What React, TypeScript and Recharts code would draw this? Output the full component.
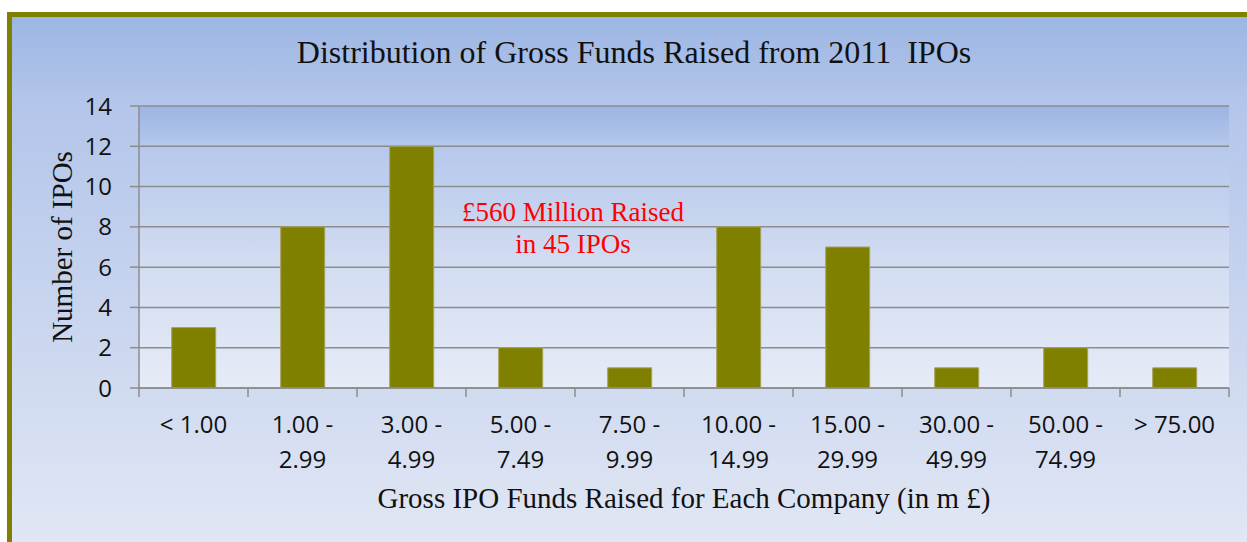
import React from "react";
import { BarChart, Bar, XAxis, YAxis, CartesianGrid } from "recharts";

const ranges = [
  "< 1.00",
  "1.00 - 2.99",
  "3.00 - 4.99",
  "5.00 - 7.49",
  "7.50 - 9.99",
  "10.00 - 14.99",
  "15.00 - 29.99",
  "30.00 - 49.99",
  "50.00 - 74.99",
  "> 75.00",
];
const ipoCounts = [3, 8, 12, 2, 1, 8, 7, 1, 2, 1];
const yTicks = [0, 2, 4, 6, 8, 10, 12, 14];

const title = "Distribution of Gross Funds Raised from 2011  IPOs";
const yTitle = "Number of IPOs";
const xTitle = "Gross IPO Funds Raised for Each Company (in m £)";
const noteLines = ["£560 Million Raised", "in 45 IPOs"];

const data = ranges.map((range, i) => ({ range, count: ipoCounts[i] }));

const OLIVE = "#808000";
const GRID = "#8c8c8c";
const SERIF = "'Liberation Serif', 'Times New Roman', serif";
const SANS = "'Open Sans', 'Noto Sans', sans-serif";

function splitLabel(label: string) {
  const idx = label.indexOf(" - ");
  if (idx < 0) return [label];
  return [label.slice(0, idx) + " -", label.slice(idx + 3)];
}

function CategoryTick(props: any) {
  const { x, y, payload, index, width, visibleTicksCount } = props;
  const band =
    typeof width === "number" && visibleTicksCount ? width / visibleTicksCount : 109;
  const lines = splitLabel(String(payload.value));
  return (
    <g>
      <line x1={x - band / 2} x2={x - band / 2} y1={y} y2={y + 9} stroke={GRID} strokeWidth={1.5} />
      {index === visibleTicksCount - 1 && (
        <line x1={x + band / 2} x2={x + band / 2} y1={y} y2={y + 9} stroke={GRID} strokeWidth={1.5} />
      )}
      {lines.map((t, i) => (
        <text
          key={i}
          x={x}
          y={y + 45 + i * 35}
          textAnchor="middle"
          fontFamily={SANS}
          fontSize={24}
          fill="#111"
        >
          {t}
        </text>
      ))}
    </g>
  );
}

function YTitle(props: any) {
  const vb = props.viewBox || { x: 0, y: 0, height: 0 };
  const cx = vb.x + 60;
  const cy = vb.y + vb.height / 2;
  return (
    <text
      x={cx}
      y={cy}
      transform={`rotate(-90 ${cx} ${cy})`}
      textAnchor="middle"
      fontFamily={SERIF}
      fontSize={29}
      fill="#111"
    >
      {yTitle}
    </text>
  );
}

function XTitle(props: any) {
  const vb = props.viewBox || { x: 0, y: 0, width: 0 };
  return (
    <text
      x={vb.x + vb.width / 2}
      y={vb.y + 120}
      textAnchor="middle"
      fontFamily={SERIF}
      fontSize={29}
      fill="#111"
    >
      {xTitle}
    </text>
  );
}

export default function App() {
  return (
    <div
      style={{
        position: "fixed",
        left: 0,
        top: 0,
        width: 1247,
        height: 542,
        overflow: "hidden",
        background: "#fff",
      }}
    >
      <svg width={0} height={0} style={{ position: "absolute" }}>
        <defs>
          <linearGradient id="plotBg" x1="0" y1="0" x2="0" y2="1">
            <stop offset="0%" stopColor="#9cb5e3" />
            <stop offset="15%" stopColor="#b6c8ec" />
            <stop offset="55%" stopColor="#d2dcf1" />
            <stop offset="100%" stopColor="#e6ebf7" />
          </linearGradient>
        </defs>
      </svg>
      <div
        style={{
          position: "absolute",
          left: 7,
          top: 12,
          width: 1260,
          height: 560,
          borderLeft: `5px solid ${OLIVE}`,
          borderTop: `5px solid ${OLIVE}`,
          background:
            "linear-gradient(to bottom, #9cb6e3 0px, #b3c5ea 85px, #e1e7f4 530px)",
        }}
      />
      <div
        style={{
          position: "absolute",
          left: 134,
          top: 37,
          width: 1000,
          textAlign: "center",
          fontFamily: SERIF,
          fontSize: 32,
          lineHeight: "31px",
          whiteSpace: "pre",
          color: "#111",
        }}
      >
        {title}
      </div>
      <div style={{ position: "absolute", left: 12, top: 17 }}>
        <BarChart
          width={1240}
          height={530}
          data={data}
          margin={{ top: 89, right: 23, left: 0, bottom: 0 }}
          barCategoryGap="30%"
        >
          <CartesianGrid
            vertical={false}
            stroke={GRID}
            strokeWidth={1.5}
            fill="url(#plotBg)"
            fillOpacity={1}
          />
          <XAxis
            dataKey="range"
            interval={0}
            height={159}
            axisLine={{ stroke: GRID, strokeWidth: 1.5 }}
            tickLine={false}
            tickSize={0}
            tickMargin={0}
            tick={<CategoryTick />}
            label={<XTitle />}
          />
          <YAxis
            width={127}
            domain={[0, 14]}
            ticks={yTicks}
            interval={0}
            axisLine={{ stroke: GRID, strokeWidth: 1.5 }}
            tickLine={{ stroke: GRID, strokeWidth: 1.5 }}
            tickSize={9}
            tickMargin={18}
            tick={{ fontFamily: SANS, fontSize: 24, fill: "#111" }}
            label={<YTitle />}
          />
          <Bar
            dataKey="count"
            fill={OLIVE}
            stroke="#a3a35c"
            strokeWidth={1}
            isAnimationActive={false}
          />
        </BarChart>
      </div>
      <div
        style={{
          position: "absolute",
          left: 373,
          top: 197,
          width: 400,
          textAlign: "center",
          fontFamily: SERIF,
          fontSize: 27,
          lineHeight: "31.6px",
          color: "#ff0000",
        }}
      >
        {noteLines.map((l) => (
          <div key={l}>{l}</div>
        ))}
      </div>
    </div>
  );
}
